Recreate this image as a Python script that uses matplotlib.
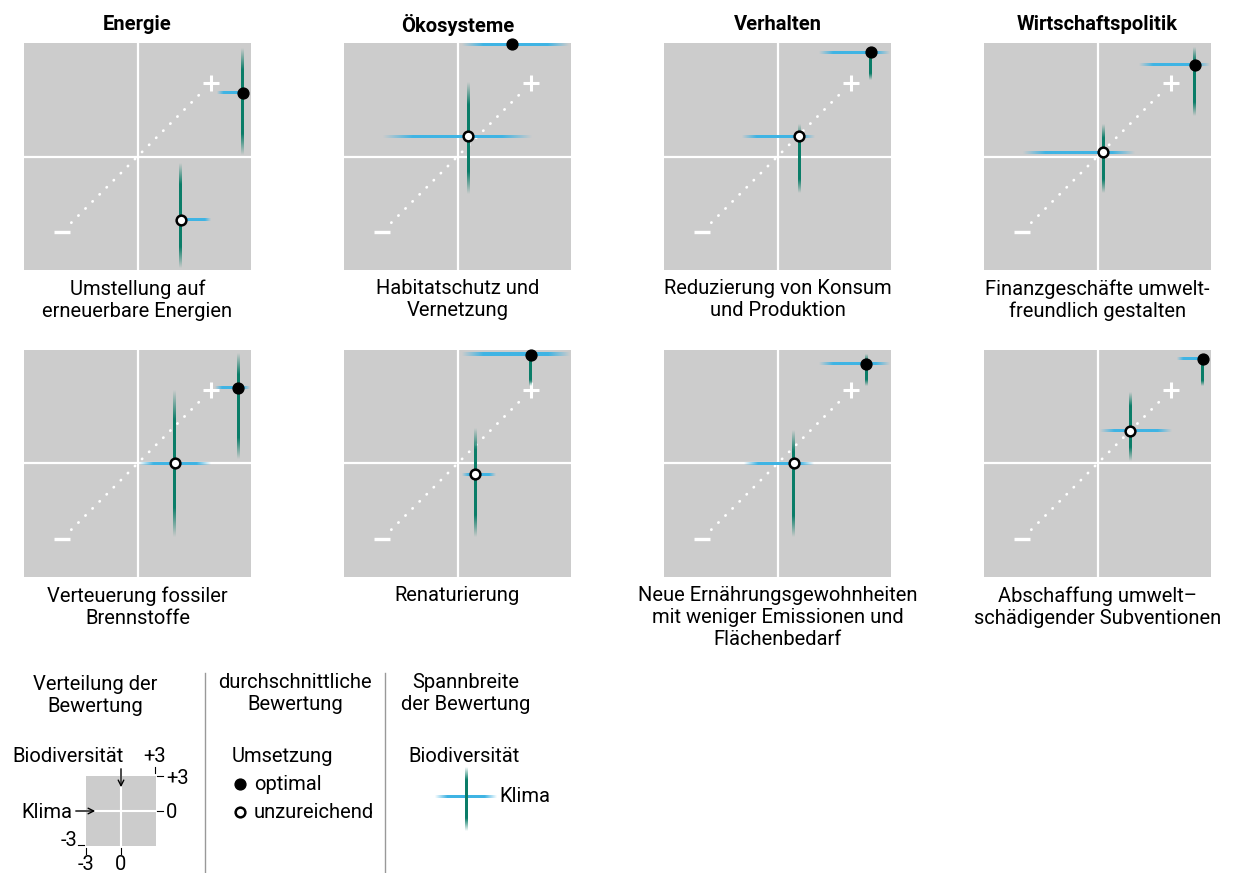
import numpy as np
import matplotlib
matplotlib.use("Agg")
import matplotlib.pyplot as plt
from matplotlib.colors import to_rgba
from matplotlib.patches import Rectangle

plt.rcParams['font.family'] = ['Roboto', 'DejaVu Sans']

W, H = 1233, 873
GRAY = '#cccccc'
BLUE = '#3fb4e4'
GREEN = '#0a7d68'

# column titles
col_titles = ['Energie', 'Ökosysteme', 'Verhalten', 'Wirtschaftspolitik']

# panel captions (row 1, then row 2)
captions = [
    'Umstellung auf\nerneuerbare Energien',
    'Habitatschutz und\nVernetzung',
    'Reduzierung von Konsum\nund Produktion',
    'Finanzgeschäfte umwelt-\nfreundlich gestalten',
    'Verteuerung fossiler\nBrennstoffe',
    'Renaturierung',
    'Neue Ernährungsgewohnheiten\nmit weniger Emissionen und\nFlächenbedarf',
    'Abschaffung umwelt–\nschädigender Subventionen',
]

# mean ratings, x = Klima, y = Biodiversität
opt_klima = [2.78, 1.45, 2.46, 2.57, 2.66, 1.94, 2.35, 2.78]
opt_bio   = [1.69, 2.97, 2.75, 2.43, 2.00, 2.88, 2.64, 2.77]
unz_klima = [1.14, 0.28, 0.58, 0.15, 0.99, 0.47, 0.43, 0.87]
unz_bio   = [-1.67, 0.53, 0.53, 0.11, 0.00, -0.29, 0.00, 0.87]

# rating ranges (lo, hi); None = no range drawn
opt_klima_rng = [(2.09, 2.95), (0.12, 2.94), (1.09, 2.96), (1.09, 2.96),
                 (2.06, 2.96), (0.12, 2.95), (1.09, 2.96), (2.09, 2.90)]
opt_bio_rng   = [(0.05, 2.86), None, (2.03, 2.90), (1.06, 2.87),
                 (0.12, 2.90), (2.06, 2.88), (2.06, 2.90), (2.06, 2.77)]
unz_klima_rng = [(1.14, 1.93), (-1.96, 1.97), (-0.93, 0.98), (-1.96, 0.98),
                 (0.03, 1.93), (0.12, 1.00), (-0.89, 0.96), (0.07, 1.96)]
unz_bio_rng   = [(-2.96, -0.21), (-1.00, 1.94), (-0.97, 0.85), (-0.97, 0.85),
                 (-1.95, 1.93), (-1.95, 0.92), (-1.95, 0.87), (0.07, 1.89)]


def grad_line(ax, lo, hi, pos, half, color, vertical=False, fade=0.2, z=3):
    # straight bar drawn as a gradient strip, fading out towards both ends
    n = 200
    t = (np.arange(n) + 0.5) / n
    a = np.clip(np.minimum(t, 1 - t) / fade, 0, 1)
    rgba = np.zeros((n, 4))
    rgba[:, :3] = to_rgba(color)[:3]
    rgba[:, 3] = a
    if vertical:
        img = rgba[::-1].reshape(n, 1, 4)
        ext = [pos - half, pos + half, lo, hi]
    else:
        img = rgba.reshape(1, n, 4)
        ext = [lo, hi, pos - half, pos + half]
    ax.imshow(img, extent=ext, aspect='auto', origin='upper',
              interpolation='bilinear', zorder=z, clip_on=False)


fig = plt.figure(figsize=(W / 100, H / 100), dpi=100)
ov = fig.add_axes([0, 0, 1, 1])
ov.axis('off')

col_left = [24, 344, 664, 984]
row_top = [43, 350]
box = 227
hw = 1.5 * 6 / box  # half line width in data units

for i in range(8):
    r, c = divmod(i, 4)
    left, top = col_left[c], row_top[r]
    ax = fig.add_axes([left / W, (H - top - box) / H, box / W, box / H])
    ax.set_facecolor(GRAY)
    for s in ax.spines.values():
        s.set_visible(False)
    ax.set_xticks([])
    ax.set_yticks([])
    ax.axhline(0, color='white', lw=1.6, zorder=1)
    ax.axvline(0, color='white', lw=1.6, zorder=1)
    ax.plot([-1.75, 1.75], [-1.75, 1.75], color='white', lw=2.0,
            linestyle=(0, (0.1, 3.5)), dash_capstyle='round', zorder=2)
    ax.plot([1.93], [1.93], marker='+', ms=12, mew=2.2, color='white', zorder=2)
    ax.plot([-2.0], [-2.0], marker='_', ms=12, mew=2.4, color='white', zorder=2)

    for kx, by, krng, brng, filled in [
            (opt_klima[i], opt_bio[i], opt_klima_rng[i], opt_bio_rng[i], True),
            (unz_klima[i], unz_bio[i], unz_klima_rng[i], unz_bio_rng[i], False)]:
        if krng is not None:
            grad_line(ax, krng[0], krng[1], by, hw, BLUE, z=3)
        if brng is not None:
            grad_line(ax, brng[0], brng[1], kx, hw, GREEN, vertical=True, z=4)
        if filled:
            ax.plot([kx], [by], 'o', ms=7.8, color='black', zorder=6, clip_on=False)
        else:
            ax.plot([kx], [by], 'o', ms=7, mfc='white', mec='black', mew=1.8,
                    zorder=6, clip_on=False)
    ax.set_xlim(-3, 3)
    ax.set_ylim(-3, 3)

    cx = left + box / 2
    if r == 0:
        ov.text(cx, 25, col_titles[c], ha='center', va='center',
                fontsize=14.5, fontweight='bold')
    ov.text(cx, top + box + 9, captions[i], ha='center', va='top',
            fontsize=14.5, linespacing=1.2)

# ---- legend ----
fs = 14.5
ov.text(95, 696, 'Verteilung der\nBewertung', ha='center', va='center',
        fontsize=fs, linespacing=1.2)
ov.text(295, 693, 'durchschnittliche\nBewertung', ha='center', va='center',
        fontsize=fs, linespacing=1.2)
ov.text(466, 693, 'Spannbreite\nder Bewertung', ha='center', va='center',
        fontsize=fs, linespacing=1.2)
ov.plot([205, 205], [673, 873], color='#999999', lw=1)
ov.plot([385, 385], [673, 873], color='#999999', lw=1)

# mini box
ov.add_patch(Rectangle((86, 776), 70, 70, color=GRAY, lw=0))
ov.plot([121, 121], [776, 846], color='white', lw=1.5)
ov.plot([86, 156], [811, 811], color='white', lw=1.5)
ov.text(12, 757, 'Biodiversität', ha='left', va='center', fontsize=fs)
ov.text(155, 757, '+3', ha='center', va='center', fontsize=fs)
ov.annotate('', xy=(121, 790), xytext=(121, 766),
            arrowprops=dict(arrowstyle='->', lw=1, color='black'))
ov.text(72, 812, 'Klima', ha='right', va='center', fontsize=fs)
ov.annotate('', xy=(98, 811), xytext=(73, 811),
            arrowprops=dict(arrowstyle='->', lw=1, color='black'))
ov.plot([155, 155], [767, 773], color='black', lw=0.8)
ov.plot([157, 163], [776, 776], color='black', lw=0.8)
ov.text(166, 778, '+3', ha='left', va='center', fontsize=fs)
ov.plot([157, 163], [811, 811], color='black', lw=0.8)
ov.text(166, 812, '0', ha='left', va='center', fontsize=fs)
ov.plot([78, 84], [845, 845], color='black', lw=0.8)
ov.text(77, 841, '-3', ha='right', va='center', fontsize=fs)
ov.plot([86, 86], [848, 854], color='black', lw=0.8)
ov.plot([121, 121], [848, 854], color='black', lw=0.8)
ov.text(86, 864, '-3', ha='center', va='center', fontsize=fs)
ov.text(121, 864, '0', ha='center', va='center', fontsize=fs)

# mean markers legend
ov.text(232, 757, 'Umsetzung', ha='left', va='center', fontsize=fs)
ov.plot([240], [784], 'o', ms=7.8, color='black')
ov.text(254, 784, 'optimal', ha='left', va='center', fontsize=fs)
ov.plot([240], [812], 'o', ms=7, mfc='white', mec='black', mew=1.8)
ov.text(254, 812, 'unzureichend', ha='left', va='center', fontsize=fs)

# range legend
ov.text(408, 757, 'Biodiversität', ha='left', va='center', fontsize=fs)
grad_line(ov, 435, 497, 797, 1.5, BLUE, z=3)
grad_line(ov, 767, 831, 466, 1.5, GREEN, vertical=True, z=4)
ov.text(499, 797, 'Klima', ha='left', va='center', fontsize=fs)

ov.set_xlim(0, W)
ov.set_ylim(H, 0)

fig.savefig('out.png', dpi=100)
